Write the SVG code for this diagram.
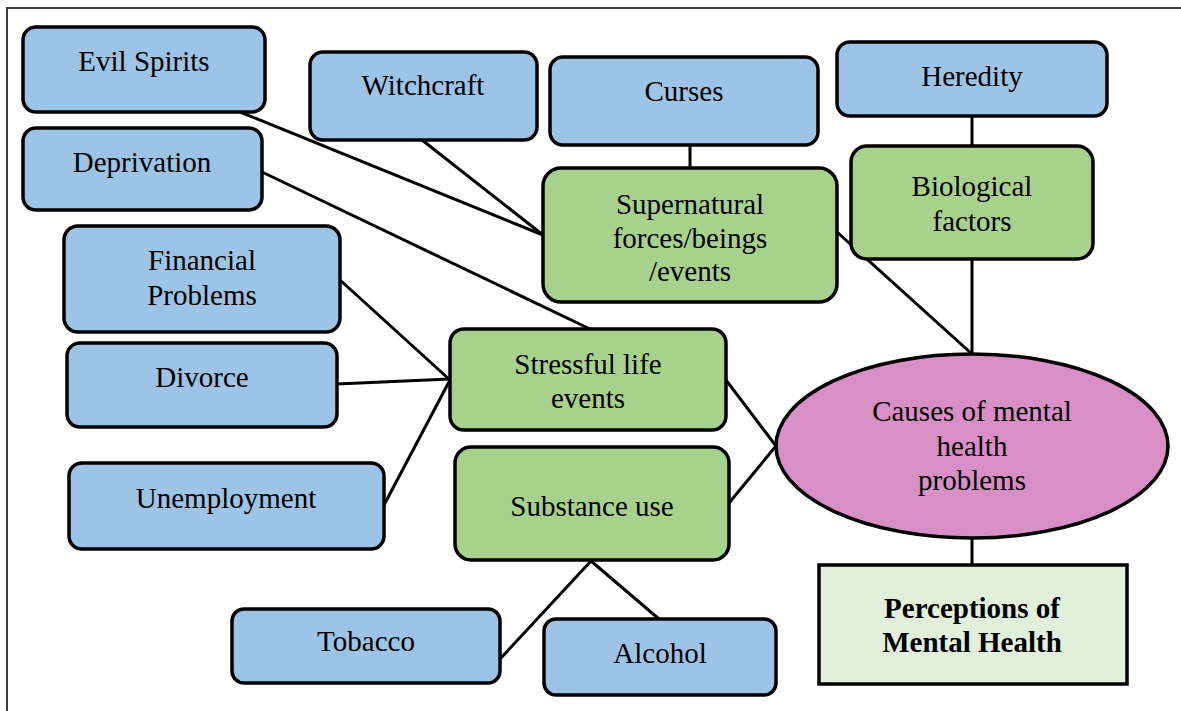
<svg xmlns="http://www.w3.org/2000/svg" width="1181" height="711" viewBox="0 0 1181 711">
  <style>
    .frame { fill: none; stroke: #3a3a3a; stroke-width: 2; }
    .blue { fill: #9dc3e6; stroke: #000; stroke-width: 3.5; }
    .green { fill: #a9d18e; stroke: #000; stroke-width: 3.5; }
    .pink { fill: #d88fc5; stroke: #000; stroke-width: 3.5; }
    .light { fill: #e2efda; stroke: #000; stroke-width: 3.5; }
    .links line { stroke: #000; stroke-width: 3; }
    text { font-family: "Liberation Serif", "Times New Roman", serif; font-size: 29px; fill: #000; text-anchor: middle; }
    .bold { font-weight: bold; }
  </style>

  <rect class="frame" x="7" y="8" width="1200" height="720"/>

  <!-- connectors -->
  <g id="connectors" class="links">
    <line x1="240" y1="112" x2="543" y2="235"/>
    <line x1="422" y1="140" x2="543" y2="235"/>
    <line x1="690" y1="145" x2="690" y2="168"/>
    <line x1="972" y1="116" x2="972" y2="146"/>
    <line x1="262" y1="172" x2="590" y2="329"/>
    <line x1="837" y1="232" x2="972" y2="354"/>
    <line x1="972" y1="259" x2="972" y2="354"/>
    <line x1="340" y1="280" x2="450" y2="380"/>
    <line x1="337" y1="384" x2="450" y2="379"/>
    <line x1="384" y1="505" x2="450" y2="380"/>
    <line x1="726" y1="380" x2="776" y2="446"/>
    <line x1="729" y1="503" x2="776" y2="446"/>
    <line x1="591" y1="561" x2="500" y2="659"/>
    <line x1="591" y1="561" x2="659" y2="619"/>
    <line x1="972" y1="537" x2="972" y2="565"/>
  </g>

  <g id="evil-spirits">
    <rect class="blue" x="23" y="27" width="242" height="85" rx="13"/>
    <text x="144" y="71">Evil Spirits</text>
  </g>
  <g id="witchcraft">
    <rect class="blue" x="310" y="52" width="227" height="88" rx="13"/>
    <text x="423" y="95">Witchcraft</text>
  </g>
  <g id="curses">
    <rect class="blue" x="550" y="57" width="268" height="88" rx="13"/>
    <text x="684" y="101">Curses</text>
  </g>
  <g id="heredity">
    <rect class="blue" x="837" y="42" width="270" height="74" rx="13"/>
    <text x="972" y="86">Heredity</text>
  </g>
  <g id="deprivation">
    <rect class="blue" x="23" y="128" width="239" height="82" rx="13"/>
    <text x="142" y="172">Deprivation</text>
  </g>
  <g id="supernatural">
    <rect class="green" x="543" y="168" width="294" height="134" rx="18"/>
    <text x="690" y="214">Supernatural</text>
    <text x="690" y="248">forces/beings</text>
    <text x="690" y="281">/events</text>
  </g>
  <g id="biological">
    <rect class="green" x="851" y="146" width="242" height="113" rx="16"/>
    <text x="972" y="196">Biological</text>
    <text x="972" y="231">factors</text>
  </g>
  <g id="financial">
    <rect class="blue" x="64" y="226" width="276" height="106" rx="14"/>
    <text x="202" y="270">Financial</text>
    <text x="202" y="305">Problems</text>
  </g>
  <g id="divorce">
    <rect class="blue" x="67" y="343" width="270" height="84" rx="13"/>
    <text x="202" y="387">Divorce</text>
  </g>
  <g id="stressful">
    <rect class="green" x="450" y="329" width="276" height="101" rx="14"/>
    <text x="588" y="374">Stressful life</text>
    <text x="588" y="408">events</text>
  </g>
  <g id="unemployment">
    <rect class="blue" x="69" y="463" width="315" height="86" rx="13"/>
    <text x="226" y="508">Unemployment</text>
  </g>
  <g id="substance">
    <rect class="green" x="455" y="447" width="274" height="113" rx="16"/>
    <text x="592" y="516">Substance use</text>
  </g>
  <g id="causes">
    <ellipse class="pink" cx="972" cy="446" rx="196" ry="92"/>
    <text x="972" y="421">Causes of mental</text>
    <text x="972" y="456">health</text>
    <text x="972" y="490">problems</text>
  </g>
  <g id="perceptions">
    <rect class="light" x="819" y="565" width="308" height="119"/>
    <text class="bold" x="972" y="618">Perceptions of</text>
    <text class="bold" x="972" y="652">Mental Health</text>
  </g>
  <g id="tobacco">
    <rect class="blue" x="232" y="609" width="268" height="74" rx="12"/>
    <text x="366" y="651">Tobacco</text>
  </g>
  <g id="alcohol">
    <rect class="blue" x="544" y="619" width="232" height="76" rx="12"/>
    <text x="660" y="663">Alcohol</text>
  </g>
</svg>
